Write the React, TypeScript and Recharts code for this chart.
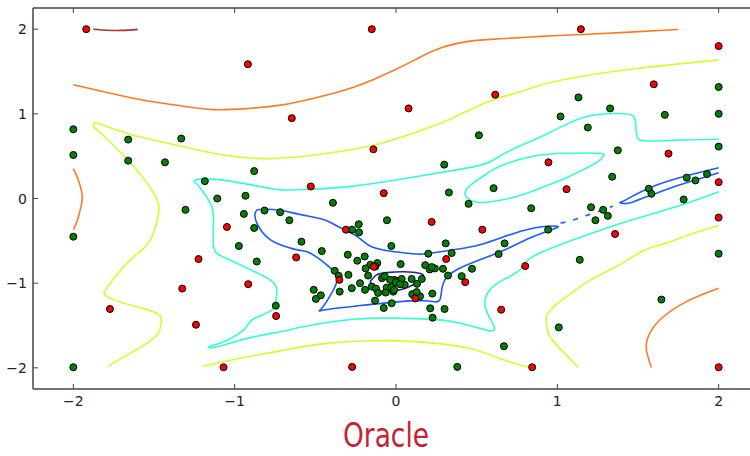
import React from 'react';
import { ComposedChart, Scatter, XAxis, YAxis } from 'recharts';

type P = { x: number; y: number };
const pts = (a: number[][]): P[] => a.map(([x, y]) => ({ x, y }));

const xTicks = [-2, -1, 0, 1, 2];
const yTicks = [-2, -1, 0, 1, 2];
const titleText = 'Oracle';

const redPoints = pts([
  [-1.92, 2.0], [-0.918, 1.586], [-0.15, 2.0], [-0.646, 0.949], [0.078, 1.064], [0.615, 1.226],
  [-0.14, 0.581], [-0.528, 0.142], [-0.076, 0.063], [1.146, 2.0], [2.0, 1.8], [1.598, 1.349],
  [1.689, 0.53], [0.945, 0.427], [1.057, 0.11], [2.0, 0.193], [-1.048, -0.336], [-1.224, -0.715],
  [-1.325, -1.064], [-0.916, -1.012], [-1.773, -1.305], [-0.743, -1.388], [-1.24, -1.491],
  [-1.069, -1.993], [0.221, -0.277], [0.535, -0.368], [-0.31, -0.368], [-0.619, -0.696],
  [0.311, -0.715], [-0.138, -0.807], [0.429, -0.988], [-0.351, -0.961], [0.12, -1.18],
  [0.652, -1.313], [-0.272, -1.989], [1.358, -0.419], [0.801, -0.798], [2.0, -0.225],
  [0.844, -1.993], [2.0, -1.993],
]);

const greenPoints = pts([
  [-2.0, 0.818], [-1.66, 0.696], [-1.331, 0.708], [-2.0, 0.514], [-1.66, 0.447], [-1.432, 0.427],
  [-0.879, 0.324], [-1.185, 0.205], [-1.108, 0.0], [-0.933, 0.032], [0.514, 0.747], [0.299, 0.4],
  [0.328, 0.071], [0.605, 0.122], [2.0, 1.317], [1.131, 1.194], [1.327, 1.064], [1.02, 0.969],
  [1.666, 0.988], [2.0, 1.0], [1.189, 0.838], [1.375, 0.569], [2.0, 0.613], [1.34, 0.257],
  [1.802, 0.246], [1.856, 0.214], [1.928, 0.288], [1.567, 0.115], [1.583, 0.056], [1.783, -0.012],
  [-2.0, -0.451], [-1.305, -0.134], [-0.943, -0.182], [-0.815, -0.142], [-0.718, -0.162],
  [-0.879, -0.348], [-0.974, -0.561], [-0.863, -0.744], [-0.745, -1.266], [-2.0, -1.993],
  [-0.391, -0.051], [0.45, -0.063], [-0.661, -0.257], [-0.056, -0.257], [-0.272, -0.368],
  [-0.231, -0.304], [-0.229, -0.4], [-0.586, -0.51], [-0.46, -0.621], [-0.029, -0.561],
  [0.308, -0.53], [0.673, -0.53], [0.636, -0.656], [0.345, -0.644], [0.2, -0.652],
  [-0.299, -0.664], [-0.24, -0.735], [-0.194, -0.684], [-0.116, -0.763], [-0.159, -0.783],
  [-0.128, -0.803], [0.029, -0.775], [-0.188, -0.826], [0.181, -0.787], [0.209, -0.838],
  [0.241, -0.826], [0.291, -0.83], [0.221, -0.81], [0.471, -0.83], [-0.38, -0.854],
  [-0.295, -0.902], [-0.173, -0.91], [0.322, -0.91], [0.407, -0.917], [-0.223, -1.0],
  [-0.274, -1.059], [-0.192, -1.079], [-0.349, -1.1], [-0.51, -1.079], [-0.497, -1.186],
  [-0.466, -1.143], [-0.076, -1.293], [-0.027, -1.237], [0.212, -1.297], [0.301, -1.305],
  [0.227, -1.408], [0.669, -1.744], [0.38, -1.989], [0.225, -1.123], [0.101, -1.13],
  [0.149, -1.155], [0.128, -1.105], [-0.011, -0.961], [0.008, -0.975], [0.035, -0.95],
  [0.054, -1.02], [0.097, -0.95], [0.13, -1.008], [0.16, -0.95], [-0.15, -1.04],
  [-0.124, -1.064], [-0.111, -1.115], [-0.13, -1.206], [-0.058, -1.052], [-0.027, -1.048],
  [-0.017, -1.1], [-0.064, -1.111], [-0.087, -0.941], [-0.07, -0.917], [-0.037, -0.961],
  [0.0, -0.99], [0.025, -1.012], [-0.012, -1.079], [0.838, -0.115], [0.943, -0.368],
  [1.209, -0.103], [1.284, -0.134], [1.313, -0.205], [1.236, -0.257], [1.139, -0.724],
  [2.0, -0.652], [1.645, -1.194], [1.009, -1.522], [-0.355, -0.913],
]);

const contourDarkRed = pts([[-1.876, 2.0], [-1.79, 1.988], [-1.7, 1.986], [-1.601, 1.998]]);

const contourOrangeTop = pts([
  [-2.0, 1.344], [-1.75, 1.234], [-1.544, 1.154], [-1.337, 1.095], [-1.131, 1.05], [-0.925, 1.062],
  [-0.718, 1.103], [-0.512, 1.183], [-0.264, 1.313], [0.004, 1.53], [0.149, 1.669], [0.293, 1.788],
  [0.458, 1.859], [0.644, 1.886], [0.9, 1.915], [1.16, 1.937], [1.45, 1.965], [1.75, 1.997],
]);
const contourOrangeLeft = pts([
  [-2.0, 0.352], [-1.975, 0.25], [-1.957, 0.146], [-1.945, 0.03], [-1.952, -0.09], [-1.977, -0.269], [-2.0, -0.368],
]);
const contourOrangeRight = pts([
  [2.0, -1.06], [1.8, -1.218], [1.635, -1.435], [1.563, -1.633], [1.552, -1.791], [1.583, -1.995],
]);

const contourYellowTop = pts([
  [-1.782, -1.98], [-1.67, -1.85], [-1.544, -1.712], [-1.47, -1.58], [-1.457, -1.475], [-1.482, -1.356],
  [-1.647, -1.257], [-1.792, -1.159], [-1.8, -1.079], [-1.74, -0.92], [-1.647, -0.724], [-1.56, -0.58],
  [-1.503, -0.407], [-1.471, -0.17], [-1.48, -0.02], [-1.55, 0.2], [-1.647, 0.423], [-1.79, 0.7],
  [-1.87, 0.84], [-1.874, 0.882], [-1.84, 0.884], [-1.647, 0.759], [-1.337, 0.62], [-1.131, 0.534],
  [-0.822, 0.471], [-0.471, 0.522], [-0.161, 0.62], [0.087, 0.759], [0.334, 0.937], [0.561, 1.135],
  [0.75, 1.25], [0.85, 1.313], [1.057, 1.412], [1.47, 1.53], [2.0, 1.637],
]);
const contourYellowBottom = pts([
  [-1.193, -1.98], [-0.95, -1.88], [-0.718, -1.8], [-0.471, -1.72], [-0.161, -1.681], [0.149, -1.693],
  [0.458, -1.771], [0.644, -1.89], [0.82, -1.99],
]);
const contourYellowRight = pts([
  [2.0, -0.32], [1.8, -0.44], [1.676, -0.526], [1.531, -0.62], [1.366, -0.803], [1.2, -0.97],
  [1.057, -1.159], [0.975, -1.28], [0.933, -1.396], [0.935, -1.52], [0.954, -1.633], [1.03, -1.8], [1.129, -1.995],
]);

const contourCyanBig = pts([
  [2.0, 0.7], [1.75, 0.69], [1.55, 0.68], [1.495, 0.73], [1.486, 0.858], [1.47, 0.976], [1.366, 1.004],
  [1.16, 0.957], [0.954, 0.779], [0.768, 0.62], [0.644, 0.502], [0.541, 0.403], [0.35, 0.33],
  [0.149, 0.265], [-0.264, 0.146], [-0.574, 0.107], [-0.75, 0.11], [-1.028, 0.205], [-1.234, 0.225],
  [-1.24, 0.18], [-1.214, 0.127], [-1.152, -0.051], [-1.131, -0.249], [-1.131, -0.566], [-1.069, -0.692],
  [-0.924, -0.822], [-0.78, -0.961], [-0.739, -1.079], [-0.745, -1.22], [-0.78, -1.33], [-0.893, -1.435],
  [-0.946, -1.554], [-1.08, -1.7], [-1.162, -1.752], [-1.11, -1.752], [-0.924, -1.652], [-0.718, -1.574],
  [-0.574, -1.515], [-0.264, -1.427], [0.045, -1.415], [0.355, -1.455], [0.586, -1.564], [0.593, -1.455],
  [0.551, -1.257], [0.582, -1.079], [0.664, -0.961], [0.768, -0.842], [0.85, -0.684], [1.16, -0.447],
  [1.47, -0.249], [1.779, -0.071], [2.0, 0.079],
]);
const contourCyanLoop = pts([
  [1.057, 0.245], [0.85, 0.09], [0.7, 0.0], [0.6, -0.035], [0.5, -0.045], [0.44, 0.01], [0.43, 0.08],
  [0.47, 0.17], [0.541, 0.265], [0.644, 0.38], [0.85, 0.5], [1.057, 0.534], [1.263, 0.534],
  [1.284, 0.502], [1.243, 0.423], [1.057, 0.245],
]);

const contourBlueMain = pts([
  [-0.863, -0.15], [-0.842, -0.13], [-0.718, -0.139], [-0.594, -0.19], [-0.45, -0.249], [-0.35, -0.34],
  [-0.243, -0.447], [-0.161, -0.56], [-0.04, -0.62], [0.1, -0.652], [0.19, -0.652], [0.355, -0.605],
  [0.52, -0.546], [0.726, -0.415], [0.892, -0.336], [1.0, -0.329], [0.964, -0.368], [0.83, -0.466],
  [0.675, -0.605], [0.52, -0.724], [0.376, -0.842], [0.293, -1.0], [0.272, -1.198], [0.2, -1.21],
  [0.025, -1.218], [-0.243, -1.269], [-0.45, -1.317], [-0.46, -1.297], [-0.388, -1.079],
  [-0.367, -0.921], [-0.429, -0.783], [-0.533, -0.644], [-0.594, -0.613], [-0.656, -0.585],
  [-0.78, -0.486], [-0.863, -0.288], [-0.873, -0.17], [-0.863, -0.15],
]);
const contourBlueDash = pts([[1.02, -0.29], [1.1, -0.255], [1.18, -0.2], [1.26, -0.15], [1.345, -0.09]]);
const contourBlueRight = pts([
  [2.0, 0.364], [1.779, 0.257], [1.573, 0.127], [1.43, -0.01], [1.387, -0.05], [1.41, -0.058],
  [1.47, -0.04], [1.676, 0.107], [1.882, 0.234], [2.0, 0.305],
]);
const contourNavy = pts([
  [-0.161, -0.98], [-0.12, -0.902], [-0.06, -0.875], [0.05, -0.865], [0.15, -0.885], [0.168, -0.925],
  [0.128, -0.995], [0.045, -1.07], [-0.037, -1.095], [-0.12, -1.08], [-0.161, -0.98],
]);

const contours = [
  { id: 'dr', data: contourDarkRed, color: '#a83030' },
  { id: 'o1', data: contourOrangeTop, color: '#ff7a26' },
  { id: 'o2', data: contourOrangeLeft, color: '#ff7a26' },
  { id: 'o3', data: contourOrangeRight, color: '#ff7a26' },
  { id: 'y1', data: contourYellowTop, color: '#d0ff30' },
  { id: 'y2', data: contourYellowBottom, color: '#d0ff30' },
  { id: 'y3', data: contourYellowRight, color: '#d0ff30' },
  { id: 'c1', data: contourCyanBig, color: '#34ffd2' },
  { id: 'c2', data: contourCyanLoop, color: '#34ffd2' },
  { id: 'b1', data: contourBlueMain, color: '#1a5cff' },
  { id: 'b2', data: contourBlueDash, color: '#1a5cff', dash: '5 8' },
  { id: 'b3', data: contourBlueRight, color: '#1a5cff' },
  { id: 'n1', data: contourNavy, color: '#25259a' },
];

const fmt = (v: number) => (v < 0 ? '\u2212' + Math.abs(v) : String(v));
const AX = '#444';
const FONT = '"DejaVu Sans", sans-serif';

const BottomTick = (p: any) => (
  <g>
    <line x1={p.x} x2={p.x} y1={p.y} y2={p.y - 5} stroke={AX} strokeWidth={1} />
    <text x={p.x} y={p.y + 17} textAnchor="middle" fontSize={14} fontFamily={FONT} fill="#222">
      {fmt(p.payload.value)}
    </text>
  </g>
);
const TopTick = (p: any) => (
  <line x1={p.x} x2={p.x} y1={p.y} y2={p.y + 5} stroke={AX} strokeWidth={1} />
);
const LeftTick = (p: any) => (
  <g>
    <line x1={p.x} x2={p.x + 5} y1={p.y} y2={p.y} stroke={AX} strokeWidth={1} />
    <text x={p.x - 6} y={p.y + 5} textAnchor="end" fontSize={14} fontFamily={FONT} fill="#222">
      {fmt(p.payload.value)}
    </text>
  </g>
);
const RightTick = (p: any) => (
  <line x1={p.x} x2={p.x - 5} y1={p.y} y2={p.y} stroke={AX} strokeWidth={1} />
);

const Dot = (color: string) => (p: any) => (
  <circle cx={p.cx} cy={p.cy} r={3.5} fill={color} stroke="#000" strokeWidth={1} />
);
const NoDot = () => <g />;

export default function App() {
  return (
    <div style={{ position: 'absolute', left: 0, top: 0, width: 750, height: 456, overflow: 'hidden', background: '#fff' }}>
      <ComposedChart width={760} height={456} margin={{ top: 7, right: 0, bottom: 37, left: 0 }}>
        <XAxis
          xAxisId="b" type="number" dataKey="x" domain={[-2.25, 2.25]} ticks={xTicks}
          allowDataOverflow height={30} tickSize={0} tickMargin={0} tick={BottomTick}
          axisLine={{ stroke: AX, strokeWidth: 1.5 }} tickLine={false}
        />
        <XAxis
          xAxisId="t" orientation="top" type="number" dataKey="x" domain={[-2.25, 2.25]} ticks={xTicks}
          allowDataOverflow height={1} tickSize={0} tickMargin={0} tick={TopTick}
          axisLine={{ stroke: AX, strokeWidth: 1.5 }} tickLine={false}
        />
        <YAxis
          yAxisId="l" type="number" dataKey="y" domain={[-2.25, 2.25]} ticks={yTicks}
          allowDataOverflow width={33} tickSize={0} tickMargin={0} tick={LeftTick}
          axisLine={{ stroke: AX, strokeWidth: 1.5 }} tickLine={false}
        />
        <YAxis
          yAxisId="r" orientation="right" type="number" dataKey="y" domain={[-2.25, 2.25]} ticks={yTicks}
          allowDataOverflow width={1} tickSize={0} tickMargin={0} tick={RightTick}
          axisLine={{ stroke: AX, strokeWidth: 1.5 }} tickLine={false}
        />
        {contours.map((c) => (
          <Scatter
            key={c.id} xAxisId="b" yAxisId="l" data={c.data} fill={c.color}
            line={{ stroke: c.color, strokeWidth: 1.6, strokeDasharray: c.dash }}
            lineJointType="natural" shape={NoDot} isAnimationActive={false}
          />
        ))}
        <Scatter xAxisId="b" yAxisId="l" data={greenPoints} fill="#008000" shape={Dot('#008000')} isAnimationActive={false} />
        <Scatter xAxisId="t" yAxisId="r" data={redPoints} fill="#ff0000" shape={Dot('#ff0000')} isAnimationActive={false} />
      </ComposedChart>
      <svg width={750} height={456} style={{ position: 'absolute', left: 0, top: 0, pointerEvents: 'none' }}>
        <text x={386} y={447} textAnchor="middle" fontSize={34} fill="#c62230" textLength={86}
          lengthAdjust="spacingAndGlyphs"
          fontFamily='"DejaVu Sans Condensed", "DejaVu Sans", sans-serif'>
          {titleText}
        </text>
      </svg>
    </div>
  );
}
